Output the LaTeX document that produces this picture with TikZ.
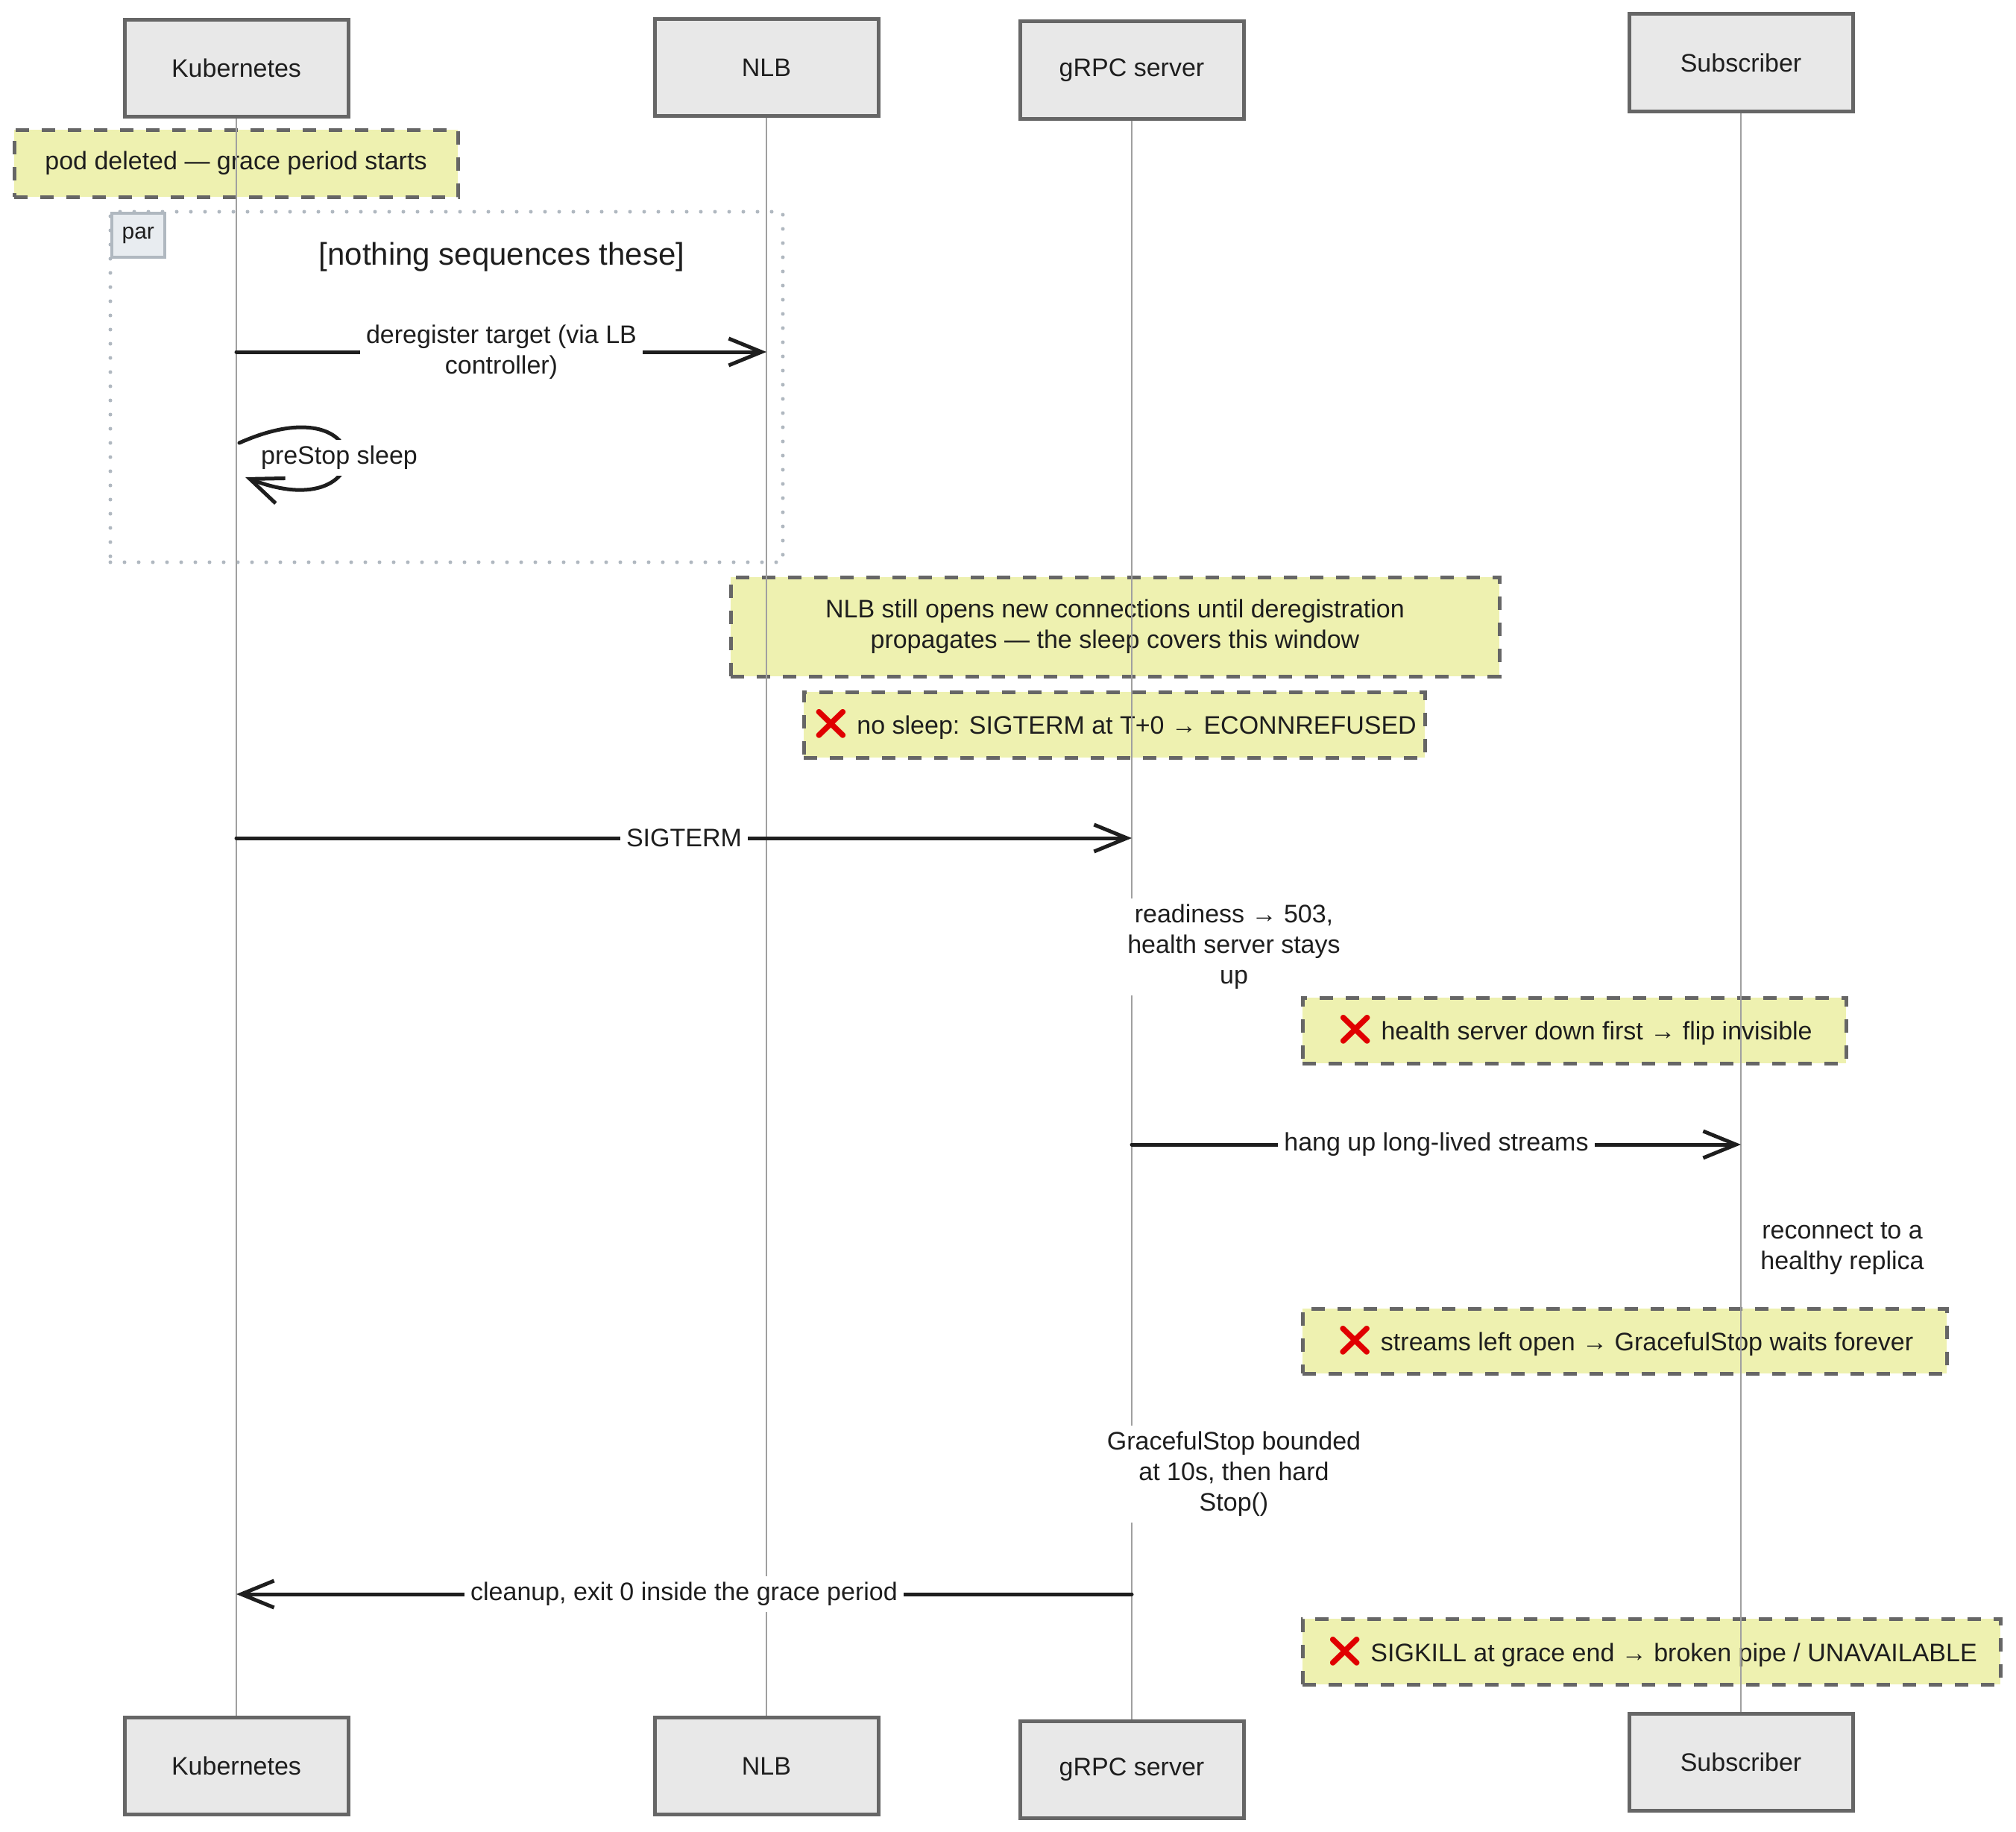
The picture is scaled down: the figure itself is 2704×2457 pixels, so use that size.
\documentclass[tikz,border=0pt]{standalone}
\usepackage{fontspec}
\setmainfont{Liberation Sans}
\newfontfamily\emojifont{Noto Emoji}
\usetikzlibrary{arrows.meta,calc}
\definecolor{ink}{HTML}{1E1E1E}
\definecolor{boxfill}{HTML}{E8E8E8}
\definecolor{boxline}{HTML}{666666}
\definecolor{notefill}{HTML}{EEF1B0}
\definecolor{lifegray}{HTML}{A0A0A0}
\definecolor{framegray}{HTML}{B0B8C0}
\definecolor{parfill}{HTML}{E8ECF0}
\definecolor{xred}{HTML}{E00000}
\newcommand{\xmk}{{\emojifont\fontsize{40pt}{41pt}\selectfont\color{xred}❌}}
\newcommand{\txtsz}{\fontsize{34pt}{41pt}\selectfont}
\begin{document}
\begin{tikzpicture}[x=1pt,y=-1pt,
  actor/.style={draw=boxline, fill=boxfill, line width=5pt, minimum width=300pt, minimum height=130pt, font=\txtsz, text=ink, inner sep=0pt},
  lifeline/.style={draw=lifegray, line width=2.5pt},
  note/.style={draw=boxline, fill=notefill, line width=5pt, dash pattern=on 18pt off 17pt, font=\txtsz, text=ink, align=center, inner sep=0pt},
  parframe/.style={draw=framegray, line width=5pt, line cap=round, dash pattern=on 0pt off 19pt, inner sep=0pt},
  parlbl/.style={draw=framegray, fill=parfill, line width=3.5pt, minimum width=71pt, minimum height=59pt, inner sep=0pt, font=\fontsize{30pt}{32pt}\selectfont, text=ink},
  msg/.style={draw=ink, line width=5pt, line cap=round, -{Straight Barb[length=44pt,width=36pt]}},
  msglbl/.style={fill=white, font=\txtsz, text=ink, align=center, inner sep=8pt},
  freelbl/.style={fill=white, font=\txtsz, text=ink, align=center, inner sep=8pt},
]
\useasboundingbox (0,0) rectangle (2704,2457);
\fill[white] (0,0) rectangle (2704,2457);

% participants
\node[actor] (k1) at (317,91.5) {Kubernetes};
\node[actor] (n1) at (1028,90.5) {NLB};
\node[actor] (g1) at (1518,94) {gRPC server};
\node[actor] (s1) at (2335,84) {Subscriber};
\node[actor] (k2) at (317,2368.5) {Kubernetes};
\node[actor] (n2) at (1028,2368.5) {NLB};
\node[actor] (g2) at (1518,2373.5) {gRPC server};
\node[actor] (s2) at (2335,2363.5) {Subscriber};

% notes and frame
\node[note, minimum width=595pt, minimum height=90pt] (pod) at (316.5,219) {pod deleted — grace period starts};
\node[parframe, minimum width=902pt, minimum height=470pt] (par) at (599,519) {};
\node[parlbl, anchor=north west] (parl) at (148,284) {par};
\node[font=\fontsize{42pt}{48pt}\selectfont, text=ink] (partitle) at (673,345) {[nothing sequences these]};
\node[note, minimum width=1031pt, minimum height=133pt] (nlbnote) at (1495.5,840.5) {NLB still opens new connections until deregistration\\propagates — the sleep covers this window};
\node[note, minimum width=833pt, minimum height=88pt] (nosleep) at (1494.5,972) {\xmk\ no sleep: SIGTERM at T+0 → ECONNREFUSED};
\node[note, minimum width=729pt, minimum height=88pt] (health) at (2111.5,1382) {\xmk\ health server down first → flip invisible};
\node[note, minimum width=864pt, minimum height=87pt] (streams) at (2179,1798.5) {\xmk\ streams left open → GracefulStop waits forever};
\node[note, minimum width=936pt, minimum height=88pt] (sigkill) at (2215,2215) {\xmk\ SIGKILL at grace end → broken pipe / UNAVAILABLE};

% lifelines
\draw[lifeline] (k1.south) -- (k2.north);
\draw[lifeline] (n1.south) -- (n2.north);
\draw[lifeline] (g1.south) -- (g2.north);
\draw[lifeline] (s1.south) -- (s2.north);

% messages
\draw[msg] (k1.south |- 0,472) -- (n1.south |- 0,472)
  node[midway, msglbl] (l1) {deregister target (via LB\\controller)};
\coordinate (loopS) at ($(k1.south |- 0,594)+(4,0)$);
\coordinate (loopE) at ($(k1.south |- 0,640)+(12,0)$);
\draw[msg] (loopS) .. controls (510,510) and (510,710) .. (loopE);
\node[freelbl] (l2) at (455,614) {preStop sleep};
\draw[msg] (k1.south |- 0,1124) -- (g1.south |- 0,1124)
  node[midway, msglbl] (l3) {SIGTERM};
\node[freelbl] (ready) at (1655,1270) {readiness → 503,\\health server stays\\up};
\draw[msg] (g1.south |- 0,1535) -- (s1.south |- 0,1535)
  node[midway, msglbl] (l4) {hang up long-lived streams};
\node[freelbl] (recon) at (2471,1675) {reconnect to a\\healthy replica};
\node[freelbl] (gstop) at (1655,1977) {GracefulStop bounded\\at 10s, then hard\\Stop()};
\draw[msg] (g1.south |- 0,2138) -- (k1.south |- 0,2138)
  node[midway, msglbl] (l5) {cleanup, exit 0 inside the grace period};
\end{tikzpicture}
\end{document}
